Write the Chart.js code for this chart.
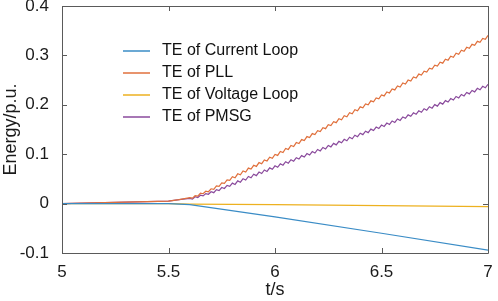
<!DOCTYPE html>
<html lang="en">
<head>
    <meta charset="UTF-8">
    <title>Transient Energy</title>
    <script src="https://cdn.jsdelivr.net/npm/chart.js"></script>
    <style>
        body { margin: 0; background: #fff; }
    </style>
</head>
<body>
    <canvas id="myChart" width="498" height="301"></canvas>

    <script>
        // time samples for the slow (straight) curves
        const tSlow = [5, 5.5, 5.6, 6, 6.5, 7];
        const currentLoop = [0, 0, -0.002, -0.027, -0.060, -0.094];
        const voltageLoop = [0, 0, -0.001, -0.002, -0.004, -0.006];

        // time samples for the rippled curves (PLL, PMSG)
        const tFast = [5, 5.1, 5.2, 5.3, 5.4, 5.5, 5.55,
            5.6, 5.6125, 5.625, 5.6375, 5.65, 5.6625, 5.675, 5.6875, 5.7, 5.7125, 5.725, 5.7375, 5.75, 5.7625, 5.775, 5.7875,
            5.8, 5.8125, 5.825, 5.8375, 5.85, 5.8625, 5.875, 5.8875, 5.9, 5.9125, 5.925, 5.9375, 5.95, 5.9625, 5.975, 5.9875,
            6, 6.0125, 6.025, 6.0375, 6.05, 6.0625, 6.075, 6.0875, 6.1, 6.1125, 6.125, 6.1375, 6.15, 6.1625, 6.175, 6.1875,
            6.2, 6.2125, 6.225, 6.2375, 6.25, 6.2625, 6.275, 6.2875, 6.3, 6.3125, 6.325, 6.3375, 6.35, 6.3625, 6.375, 6.3875,
            6.4, 6.4125, 6.425, 6.4375, 6.45, 6.4625, 6.475, 6.4875, 6.5, 6.5125, 6.525, 6.5375, 6.55, 6.5625, 6.575, 6.5875,
            6.6, 6.6125, 6.625, 6.6375, 6.65, 6.6625, 6.675, 6.6875, 6.7, 6.7125, 6.725, 6.7375, 6.75, 6.7625, 6.775, 6.7875,
            6.8, 6.8125, 6.825, 6.8375, 6.85, 6.8625, 6.875, 6.8875, 6.9, 6.9125, 6.925, 6.9375, 6.95, 6.9625, 6.975, 6.9875, 7];

        const pll = [0, 0.001, 0.002, 0.003, 0.004, 0.005, 0.008,
            0.012, 0.011, 0.016, 0.015, 0.021, 0.020, 0.025, 0.024, 0.030, 0.029, 0.036, 0.035, 0.042, 0.041, 0.048, 0.047,
            0.0545, 0.0524, 0.0603, 0.0582, 0.0661, 0.0640, 0.0719, 0.0698, 0.0775, 0.0753, 0.0830, 0.0808, 0.0885, 0.0863, 0.0940, 0.0918,
            0.0995, 0.0975, 0.1055, 0.1035, 0.1116, 0.1096, 0.1176, 0.1156, 0.1236, 0.1216, 0.1296, 0.1276, 0.1357, 0.1337, 0.1417, 0.1397,
            0.1477, 0.1457, 0.1537, 0.1517, 0.1598, 0.1578, 0.1658, 0.1638, 0.1718, 0.1698, 0.1778, 0.1758, 0.1839, 0.1819, 0.1899, 0.1879,
            0.1959, 0.1939, 0.2019, 0.1999, 0.2080, 0.2060, 0.2140, 0.2120, 0.2200, 0.2180, 0.2260, 0.2240, 0.2321, 0.2301, 0.2381, 0.2361,
            0.2441, 0.2421, 0.2501, 0.2481, 0.2562, 0.2542, 0.2622, 0.2602, 0.2682, 0.2662, 0.2742, 0.2722, 0.2803, 0.2783, 0.2863, 0.2843,
            0.2923, 0.2903, 0.2983, 0.2963, 0.3044, 0.3024, 0.3104, 0.3084, 0.3164, 0.3144, 0.3224, 0.3204, 0.3285, 0.3265, 0.3345, 0.3325, 0.3405];

        const pmsg = [0, 0.001, 0.002, 0.003, 0.004, 0.005, 0.008,
            0.0105, 0.0091, 0.0138, 0.0124, 0.0170, 0.0156, 0.0203, 0.0189, 0.0240, 0.0221, 0.0283, 0.0264, 0.0325, 0.0306, 0.0368, 0.0349,
            0.0415, 0.0388, 0.0460, 0.0433, 0.0505, 0.0478, 0.0550, 0.0523, 0.0595, 0.0566, 0.0638, 0.0609, 0.0680, 0.0651, 0.0723, 0.0694,
            0.0765, 0.0736, 0.0806, 0.0777, 0.0848, 0.0818, 0.0889, 0.0859, 0.0930, 0.0901, 0.0971, 0.0942, 0.1013, 0.0983, 0.1054, 0.1024,
            0.1095, 0.1066, 0.1136, 0.1107, 0.1178, 0.1148, 0.1219, 0.1189, 0.1260, 0.1231, 0.1301, 0.1272, 0.1343, 0.1313, 0.1384, 0.1354,
            0.1425, 0.1396, 0.1466, 0.1437, 0.1508, 0.1478, 0.1549, 0.1519, 0.1590, 0.1561, 0.1631, 0.1602, 0.1673, 0.1643, 0.1714, 0.1684,
            0.1755, 0.1726, 0.1796, 0.1767, 0.1838, 0.1808, 0.1879, 0.1849, 0.1920, 0.1891, 0.1961, 0.1932, 0.2003, 0.1973, 0.2044, 0.2014,
            0.2085, 0.2056, 0.2126, 0.2097, 0.2168, 0.2138, 0.2209, 0.2179, 0.2250, 0.2221, 0.2291, 0.2262, 0.2333, 0.2303, 0.2374, 0.2344, 0.2415];

        const seriesNames = ['TE of Current Loop', 'TE of PLL', 'TE of Voltage Loop', 'TE of PMSG'];
        const seriesColors = ['#3a8cc6', '#e0703c', '#edb120', '#8a4a9c'];

        const toPoints = (ts, vs) => ts.map((t, i) => ({ x: t, y: vs[i] }));

        const fontFamily = '"Liberation Sans", Arial, sans-serif';
        Chart.defaults.font.family = fontFamily;
        Chart.defaults.color = '#1a1a1a';

        // box with inward ticks + legend inside the axes
        const matlabBox = {
            id: 'matlabBox',
            afterDraw(chart) {
                const ctx = chart.ctx;
                const { left, right, top, bottom } = chart.chartArea;
                const x = chart.scales.x, y = chart.scales.y;
                ctx.save();
                ctx.strokeStyle = '#5a5a5a';
                ctx.lineWidth = 1;
                ctx.beginPath();
                ctx.rect(Math.round(left) + 0.5, Math.round(top) + 0.5, Math.round(right - left), Math.round(bottom - top));
                x.ticks.forEach(t => {
                    const px = Math.round(x.getPixelForValue(t.value)) + 0.5;
                    ctx.moveTo(px, bottom); ctx.lineTo(px, bottom - 5);
                    ctx.moveTo(px, top); ctx.lineTo(px, top + 5);
                });
                y.ticks.forEach(t => {
                    const py = Math.round(y.getPixelForValue(t.value)) + 0.5;
                    ctx.moveTo(left, py); ctx.lineTo(left + 5, py);
                    ctx.moveTo(right, py); ctx.lineTo(right - 5, py);
                });
                ctx.stroke();
                ctx.restore();

                // legend
                seriesNames.forEach((name, i) => {
                    const yy = 51 + i * 22;
                    ctx.save();
                    ctx.lineWidth = 1.5;
                    ctx.strokeStyle = seriesColors[i];
                    ctx.beginPath();
                    ctx.moveTo(123, yy);
                    ctx.lineTo(150, yy);
                    ctx.stroke();
                    ctx.font = '16px ' + fontFamily;
                    ctx.textBaseline = 'middle';
                    ctx.textAlign = 'left';
                    ctx.fillStyle = '#111';
                    ctx.fillText(name, 162, yy);
                    ctx.restore();
                });
            }
        };

        const ctx = document.getElementById('myChart').getContext('2d');
        const myChart = new Chart(ctx, {
            type: 'line',
            data: {
                datasets: [
                    { label: seriesNames[0], data: toPoints(tSlow, currentLoop), borderColor: seriesColors[0] },
                    { label: seriesNames[1], data: toPoints(tFast, pll), borderColor: seriesColors[1] },
                    { label: seriesNames[2], data: toPoints(tSlow, voltageLoop), borderColor: seriesColors[2] },
                    { label: seriesNames[3], data: toPoints(tFast, pmsg), borderColor: seriesColors[3] }
                ]
            },
            options: {
                responsive: false,
                animation: false,
                devicePixelRatio: 1,
                elements: {
                    point: { radius: 0 },
                    line: { borderWidth: 1.2, tension: 0 }
                },
                layout: { padding: { top: 6, right: 10, left: 0, bottom: 0 } },
                plugins: {
                    legend: { display: false },
                    tooltip: { enabled: false }
                },
                scales: {
                    x: {
                        type: 'linear',
                        min: 5,
                        max: 7,
                        grid: { display: false },
                        border: { display: false },
                        ticks: {
                            stepSize: 0.5,
                            padding: 1,
                            font: { size: 17 },
                            maxRotation: 0,
                            callback: v => String(Math.round(v * 10) / 10)
                        },
                        title: { display: true, text: 't/s', font: { size: 18 }, padding: { top: 0, bottom: 0 } },
                        afterFit(s) { s.height = 48; s.paddingLeft = 0; s.paddingRight = 0; }
                    },
                    y: {
                        min: -0.1,
                        max: 0.4,
                        grid: { display: false },
                        border: { display: false },
                        ticks: {
                            stepSize: 0.1,
                            padding: 5,
                            font: { size: 17 },
                            callback: v => String(Math.round(v * 10) / 10)
                        },
                        title: { display: true, text: 'Energy/p.u.', font: { size: 18 }, padding: 0 },
                        afterFit(s) { s.width = 62; s.paddingTop = 0; s.paddingBottom = 0; }
                    }
                }
            },
            plugins: [matlabBox]
        });
    </script>
</body>
</html>
